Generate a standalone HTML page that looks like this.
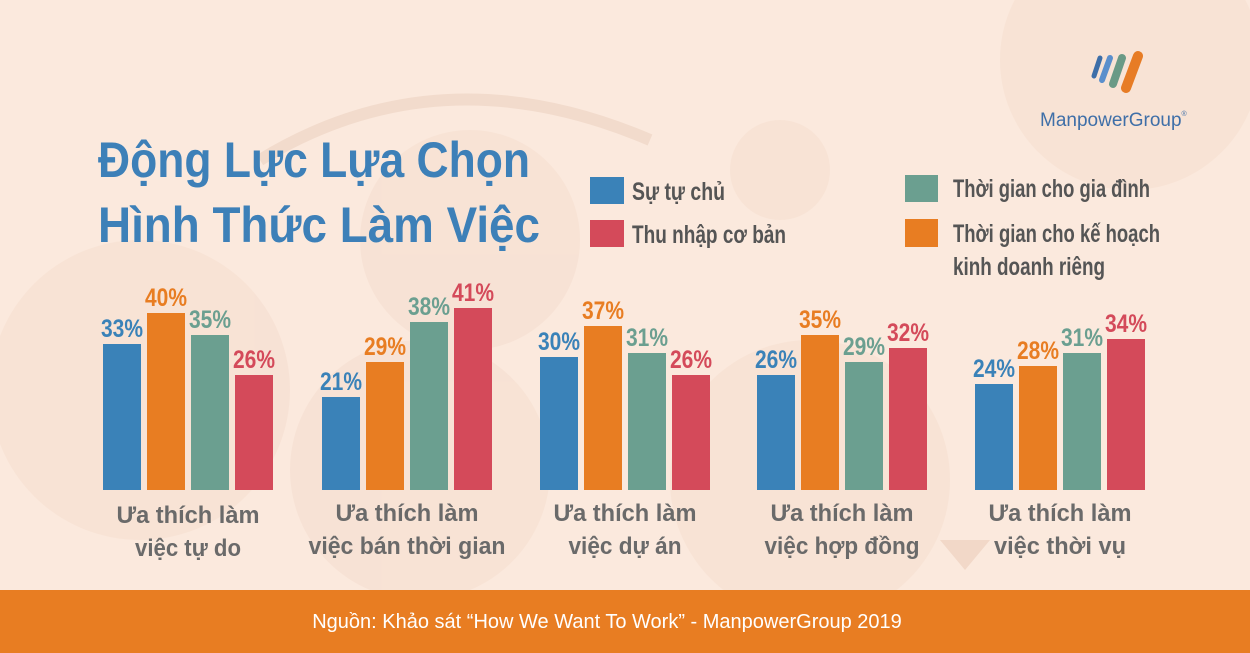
<!DOCTYPE html>
<html><head><meta charset="utf-8"><style>
html,body{margin:0;padding:0;width:1250px;height:653px;overflow:hidden;background:#fbe9dd}
svg{display:block}
text{font-family:"Liberation Sans",sans-serif}
</style></head><body>
<svg width="1250" height="653" viewBox="0 0 1250 653" xmlns="http://www.w3.org/2000/svg">
<rect width="1250" height="653" fill="#fbe9dd"/>
<g fill="#f6dfd1" opacity="0.6">
<circle cx="470" cy="240" r="110"/>
<circle cx="780" cy="170" r="50"/>
<circle cx="140" cy="390" r="150"/>
<circle cx="810" cy="480" r="140"/>
<circle cx="1130" cy="60" r="130"/>
<circle cx="420" cy="470" r="130"/>
</g>
<path d="M260 160 Q440 50 650 140" stroke="#f2dbcc" stroke-width="12" fill="none"/>
<path d="M940 540 l50 0 l-25 30z" fill="#f2d8c8"/>
<g transform="translate(1090,50)">
<line x1="4" y1="26" x2="10" y2="8" stroke="#3d6ea8" stroke-width="5" stroke-linecap="round"/>
<line x1="12" y1="30" x2="20" y2="8" stroke="#5b8fcc" stroke-width="6" stroke-linecap="round"/>
<line x1="23" y1="34" x2="32" y2="8" stroke="#6a9a86" stroke-width="8" stroke-linecap="round"/>
<line x1="36" y1="38" x2="48" y2="6" stroke="#e77c25" stroke-width="10" stroke-linecap="round"/>
</g>
<text x="1040" y="126" font-size="19" fill="#3f6fa8">ManpowerGroup<tspan font-size="7" dy="-10">®</tspan></text>
<text x="98" y="177" font-size="50" font-weight="bold" fill="#3d80b8" textLength="432" lengthAdjust="spacingAndGlyphs">Động Lực Lựa Chọn</text>
<text x="98" y="242" font-size="50" font-weight="bold" fill="#3d80b8" textLength="442" lengthAdjust="spacingAndGlyphs">Hình Thức Làm Việc</text>
<rect x="590" y="177" width="34" height="27" fill="#3a82b8"/>
<rect x="590" y="220" width="34" height="27" fill="#d44a5a"/>
<rect x="905" y="175" width="33" height="27" fill="#6b9f90"/>
<rect x="905" y="219" width="33" height="28" fill="#e87d22"/>
<g font-size="25" font-weight="bold" fill="#555">
<text x="632" y="200" textLength="93" lengthAdjust="spacingAndGlyphs">Sự tự chủ</text>
<text x="632" y="243" textLength="154" lengthAdjust="spacingAndGlyphs">Thu nhập cơ bản</text>
<text x="953" y="197" textLength="197" lengthAdjust="spacingAndGlyphs">Thời gian cho gia đình</text>
<text x="953" y="242" textLength="207" lengthAdjust="spacingAndGlyphs">Thời gian cho kế hoạch</text>
<text x="953" y="275" textLength="152" lengthAdjust="spacingAndGlyphs">kinh doanh riêng</text>
</g>
<g font-size="25" font-weight="bold" text-anchor="middle">
<rect x="103" y="344" width="38" height="146" fill="#3a82b8"/><text x="122" y="337" fill="#3a82b8" textLength="42" lengthAdjust="spacingAndGlyphs">33%</text>
<rect x="147" y="313" width="38" height="177" fill="#e87d22"/><text x="166" y="306" fill="#e87d22" textLength="42" lengthAdjust="spacingAndGlyphs">40%</text>
<rect x="191" y="335" width="38" height="155" fill="#6b9f90"/><text x="210" y="328" fill="#6b9f90" textLength="42" lengthAdjust="spacingAndGlyphs">35%</text>
<rect x="235" y="375" width="38" height="115" fill="#d44a5a"/><text x="254" y="368" fill="#d44a5a" textLength="42" lengthAdjust="spacingAndGlyphs">26%</text>
<rect x="322" y="397" width="38" height="93" fill="#3a82b8"/><text x="341" y="390" fill="#3a82b8" textLength="42" lengthAdjust="spacingAndGlyphs">21%</text>
<rect x="366" y="362" width="38" height="128" fill="#e87d22"/><text x="385" y="355" fill="#e87d22" textLength="42" lengthAdjust="spacingAndGlyphs">29%</text>
<rect x="410" y="322" width="38" height="168" fill="#6b9f90"/><text x="429" y="315" fill="#6b9f90" textLength="42" lengthAdjust="spacingAndGlyphs">38%</text>
<rect x="454" y="308" width="38" height="182" fill="#d44a5a"/><text x="473" y="301" fill="#d44a5a" textLength="42" lengthAdjust="spacingAndGlyphs">41%</text>
<rect x="540" y="357" width="38" height="133" fill="#3a82b8"/><text x="559" y="350" fill="#3a82b8" textLength="42" lengthAdjust="spacingAndGlyphs">30%</text>
<rect x="584" y="326" width="38" height="164" fill="#e87d22"/><text x="603" y="319" fill="#e87d22" textLength="42" lengthAdjust="spacingAndGlyphs">37%</text>
<rect x="628" y="353" width="38" height="137" fill="#6b9f90"/><text x="647" y="346" fill="#6b9f90" textLength="42" lengthAdjust="spacingAndGlyphs">31%</text>
<rect x="672" y="375" width="38" height="115" fill="#d44a5a"/><text x="691" y="368" fill="#d44a5a" textLength="42" lengthAdjust="spacingAndGlyphs">26%</text>
<rect x="757" y="375" width="38" height="115" fill="#3a82b8"/><text x="776" y="368" fill="#3a82b8" textLength="42" lengthAdjust="spacingAndGlyphs">26%</text>
<rect x="801" y="335" width="38" height="155" fill="#e87d22"/><text x="820" y="328" fill="#e87d22" textLength="42" lengthAdjust="spacingAndGlyphs">35%</text>
<rect x="845" y="362" width="38" height="128" fill="#6b9f90"/><text x="864" y="355" fill="#6b9f90" textLength="42" lengthAdjust="spacingAndGlyphs">29%</text>
<rect x="889" y="348" width="38" height="142" fill="#d44a5a"/><text x="908" y="341" fill="#d44a5a" textLength="42" lengthAdjust="spacingAndGlyphs">32%</text>
<rect x="975" y="384" width="38" height="106" fill="#3a82b8"/><text x="994" y="377" fill="#3a82b8" textLength="42" lengthAdjust="spacingAndGlyphs">24%</text>
<rect x="1019" y="366" width="38" height="124" fill="#e87d22"/><text x="1038" y="359" fill="#e87d22" textLength="42" lengthAdjust="spacingAndGlyphs">28%</text>
<rect x="1063" y="353" width="38" height="137" fill="#6b9f90"/><text x="1082" y="346" fill="#6b9f90" textLength="42" lengthAdjust="spacingAndGlyphs">31%</text>
<rect x="1107" y="339" width="38" height="151" fill="#d44a5a"/><text x="1126" y="332" fill="#d44a5a" textLength="42" lengthAdjust="spacingAndGlyphs">34%</text>
</g>
<g font-size="24" font-weight="bold" fill="#6a6a6a" text-anchor="middle">
<text x="188" y="523" textLength="143" lengthAdjust="spacingAndGlyphs">Ưa thích làm</text><text x="188" y="556" textLength="106" lengthAdjust="spacingAndGlyphs">việc tự do</text>
<text x="407" y="521" textLength="143" lengthAdjust="spacingAndGlyphs">Ưa thích làm</text><text x="407" y="554" textLength="197" lengthAdjust="spacingAndGlyphs">việc bán thời gian</text>
<text x="625" y="521" textLength="143" lengthAdjust="spacingAndGlyphs">Ưa thích làm</text><text x="625" y="554" textLength="113" lengthAdjust="spacingAndGlyphs">việc dự án</text>
<text x="842" y="521" textLength="143" lengthAdjust="spacingAndGlyphs">Ưa thích làm</text><text x="842" y="554" textLength="155" lengthAdjust="spacingAndGlyphs">việc hợp đồng</text>
<text x="1060" y="521" textLength="143" lengthAdjust="spacingAndGlyphs">Ưa thích làm</text><text x="1060" y="554" textLength="132" lengthAdjust="spacingAndGlyphs">việc thời vụ</text>
</g>
<rect x="0" y="590" width="1250" height="63" fill="#e87d22"/>
<text x="607" y="628" font-size="20" fill="#fff" text-anchor="middle">Nguồn: Khảo sát “How We Want To Work” - ManpowerGroup 2019</text>
</svg>
</body></html>
